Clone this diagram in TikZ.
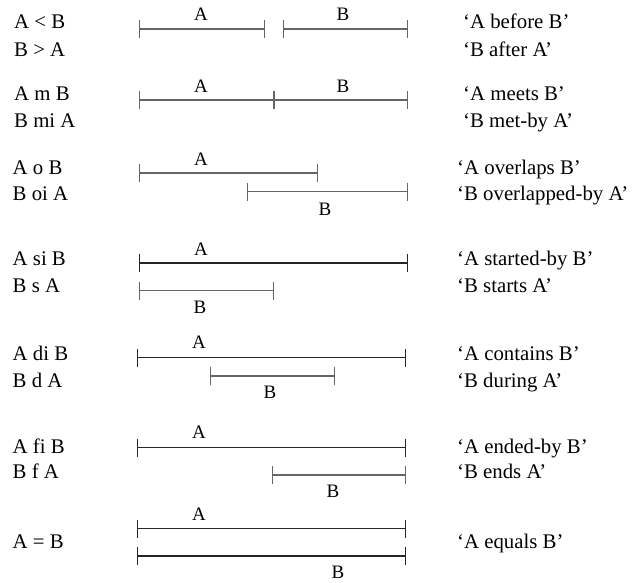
\documentclass[tikz,border=0pt]{standalone}
\usepackage{fontspec}
\setmainfont{Liberation Serif}
\usetikzlibrary{arrows.meta}

\begin{document}
\begin{tikzpicture}[x=1pt,y=-1pt,
  interval/.style={draw=black!60,line width=1.1pt,{Bar[width=18pt]}-{Bar[width=18pt]}},
  fullbar/.style={interval,draw=black!85},
  rel/.style={anchor=base west,inner sep=0pt,font=\fontsize{20.8}{24}\selectfont},
  tag/.style={anchor=base,inner sep=0pt,font=\fontsize{19}{22}\selectfont}]
\path[use as bounding box] (0,0) rectangle (637,583);
% before / after
\node[rel] (rel1a) at (14,29) {A < B};
\node[rel] (rel1b) at (14,57) {B > A};
\draw[interval] (139,29) -- (265,29);
\draw[interval] (283,29) -- (408,29);
\node[tag] (tagA1) at (201,21) {A};
\node[tag] (tagB1) at (343,21) {B};
\node[rel] (say1a) at (463,29) {‘A before B’};
\node[rel] (say1b) at (463,57) {‘B after A’};
% meets
\node[rel] (rel2a) at (14,101) {A m B};
\node[rel] (rel2b) at (14,128) {B mi A};
\draw[interval] (139,100) -- (274,100);
\draw[interval] (274,100) -- (408,100);
\node[tag] (tagA2) at (201,93) {A};
\node[tag] (tagB2) at (343,93) {B};
\node[rel] (say2a) at (463,101) {‘A meets B’};
\node[rel] (say2b) at (463,128) {‘B met-by A’};
% overlaps
\node[rel] (rel3a) at (12.5,174) {A o B};
\node[rel] (rel3b) at (12.5,200) {B oi A};
\draw[interval] (139,173) -- (318,173);
\draw[interval] (247,191.5) -- (408,191.5);
\node[tag] (tagA3) at (201,165) {A};
\node[tag] (tagB3) at (325,215) {B};
\node[rel] (say3a) at (457,174) {‘A overlaps B’};
\node[rel] (say3b) at (457,200) {‘B overlapped-by A’};
% starts
\node[rel] (rel4a) at (12.5,265) {A si B};
\node[rel] (rel4b) at (12.5,292) {B s A};
\draw[fullbar] (139,263) -- (408,263);
\draw[interval] (139,290.5) -- (274,290.5);
\node[tag] (tagA4) at (201,255) {A};
\node[tag] (tagB4) at (200,313) {B};
\node[rel] (say4a) at (457,265) {‘A started-by B’};
\node[rel] (say4b) at (457,292) {‘B starts A’};
% during
\node[rel] (rel5a) at (12.5,360) {A di B};
\node[rel] (rel5b) at (12.5,387) {B d A};
\draw[fullbar] (137,357.5) -- (406,357.5);
\draw[interval] (210,376) -- (335,376);
\node[tag] (tagA5) at (199,348) {A};
\node[tag] (tagB5) at (270,398.5) {B};
\node[rel] (say5a) at (457,360) {‘A contains B’};
\node[rel] (say5b) at (457,387) {‘B during A’};
% finishes
\node[rel] (rel6a) at (12.5,453) {A fi B};
\node[rel] (rel6b) at (12.5,478) {B f A};
\draw[fullbar] (137,447.5) -- (406,447.5);
\draw[interval] (272,475) -- (406,475);
\node[tag] (tagA6) at (199,438.5) {A};
\node[tag] (tagB6) at (333,497.5) {B};
\node[rel] (say6a) at (457,453) {‘A ended-by B’};
\node[rel] (say6b) at (457,478) {‘B ends A’};
% equals
\node[rel] (rel7) at (12.5,548) {A = B};
\draw[fullbar] (137,528.5) -- (406,528.5);
\draw[fullbar] (137,556) -- (406,556);
\node[tag] (tagA7) at (199,520) {A};
\node[tag] (tagB7) at (338,578) {B};
\node[rel] (say7) at (457,548) {‘A equals B’};
\end{tikzpicture}
\end{document}
